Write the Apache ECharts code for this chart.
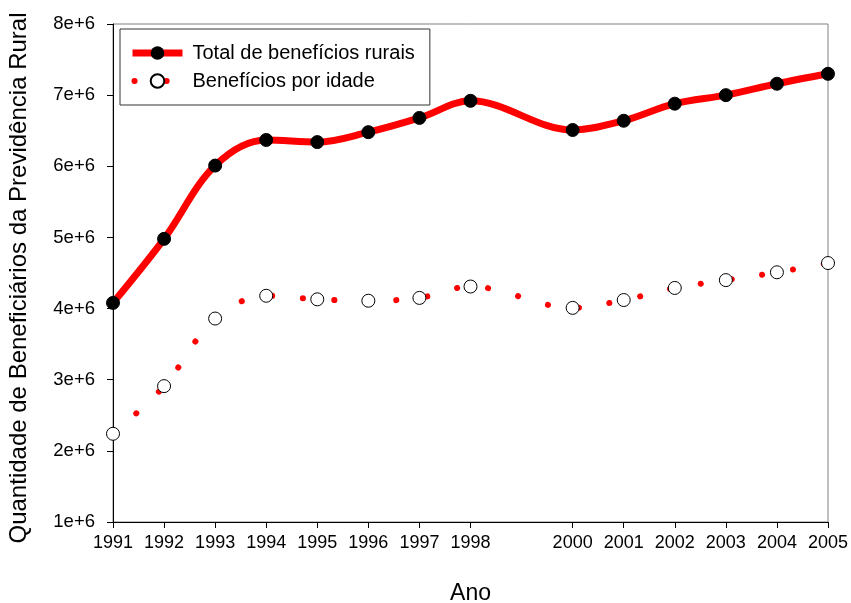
<!DOCTYPE html>
<html>
<head>
<meta charset="utf-8">
<script src="https://cdn.jsdelivr.net/npm/echarts@6/dist/echarts.min.js"></script>
<style>
  html, body { margin: 0; padding: 0; background: #fff; }
  #chart { width: 851px; height: 603px; }
</style>
</head>
<body>
<div id="chart"></div>
<script>
const years = [1991, 1992, 1993, 1994, 1995, 1996, 1997, 1998, 2000, 2001, 2002, 2003, 2004, 2005];
const totalRural = [4.08e6, 4.98e6, 6.01e6, 6.37e6, 6.34e6, 6.48e6, 6.68e6, 6.92e6, 6.51e6, 6.64e6, 6.88e6, 7.0e6, 7.16e6, 7.30e6];
const porIdade = [2.24e6, 2.91e6, 3.86e6, 4.18e6, 4.13e6, 4.11e6, 4.15e6, 4.31e6, 4.01e6, 4.12e6, 4.29e6, 4.40e6, 4.51e6, 4.64e6];

const font = "Liberation Sans, Arial, sans-serif";
const chart = echarts.init(document.getElementById("chart"));

chart.setOption({
  animation: false,
  textStyle: { fontFamily: font },
  grid: {
    left: 113, right: 23, top: 24, bottom: 81,
    outerBoundsMode: "none",
    show: true, borderColor: "#808080", borderWidth: 1,
  },
  legend: {
    orient: "vertical",
    left: 120,
    top: 29,
    padding: [14, 15, 14, 9],
    itemGap: 8,
    itemWidth: 50,
    itemHeight: 17,
    borderColor: "#333",
    borderWidth: 1,
    textStyle: { fontSize: 20, color: "#000", fontFamily: font, padding: [0, 0, 0, 5] },
    data: [
      { name: "Total de benefícios rurais", lineStyle: { width: 7 } },
      { name: "Benefícios por idade", lineStyle: { width: 6, type: [0.1, 32], dashOffset: -2, cap: "round" } },
    ],
  },
  xAxis: {
    type: "value",
    min: 1991,
    max: 2005,
    interval: 1,
    name: "Ano",
    nameLocation: "middle",
    nameGap: 60,
    nameTextStyle: { fontSize: 23, color: "#000" },
    axisLine: { lineStyle: { color: "#000" } },
    axisTick: { length: 6, lineStyle: { color: "#000" }, customValues: years },
    axisLabel: { fontSize: 18, color: "#000", margin: 12, customValues: years, formatter: (v) => String(v) },
    splitLine: { show: false },
  },
  yAxis: {
    type: "value",
    min: 1e6,
    max: 8e6,
    interval: 1e6,
    name: "Quantidade de Beneficiários da Previdência Rural",
    nameLocation: "middle",
    nameGap: 82,
    nameTextStyle: { fontSize: 24, color: "#000", padding: [0, 10, 0, 0] },
    axisLine: { show: true, lineStyle: { color: "#000" } },
    axisTick: { show: true, length: 6, lineStyle: { color: "#000" } },
    axisLabel: { fontSize: 18.5, color: "#000", margin: 18, formatter: (v) => v / 1e6 + "e+6" },
    splitLine: { show: false },
  },
  series: [
    {
      name: "Total de benefícios rurais",
      type: "line",
      smooth: 0.35,
      symbol: "circle",
      symbolSize: 13,
      itemStyle: { color: "#000", borderColor: "#000" },
      lineStyle: { color: "#ff0000", width: 7 },
      data: years.map((y, i) => [y, totalRural[i]]),
      z: 3,
    },
    {
      name: "Benefícios por idade",
      type: "line",
      smooth: 0.35,
      symbol: "circle",
      symbolSize: 13,
      itemStyle: { color: "#fff", borderColor: "#000", borderWidth: 1 },
      lineStyle: { color: "#ff0000", width: 6, type: [0.1, 31], cap: "round" },
      data: years.map((y, i) => [y, porIdade[i]]),
      z: 2,
    },
  ],
});
</script>
</body>
</html>
